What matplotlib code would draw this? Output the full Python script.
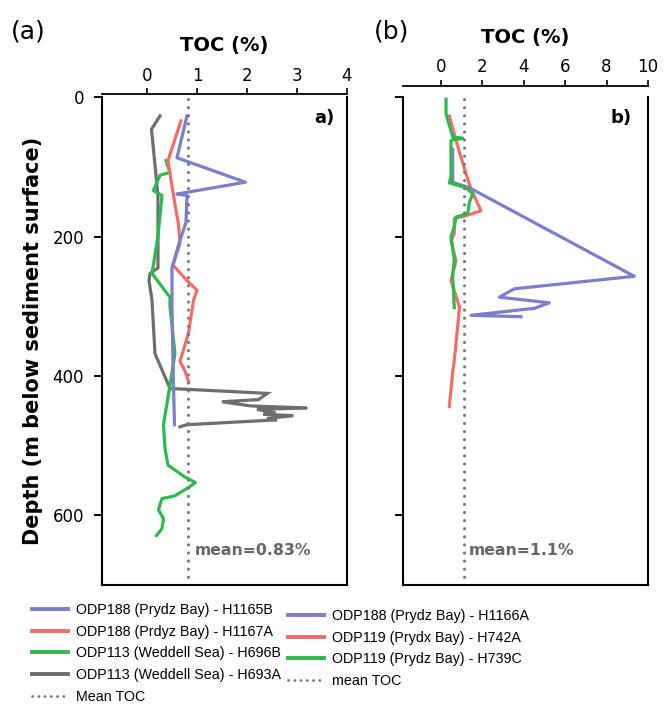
import matplotlib
matplotlib.use('Agg')
import matplotlib.pyplot as plt
from matplotlib.lines import Line2D

plt.rcParams['font.family'] = ['DejaVu Sans']

# ---------------- Panel (a) data ----------------
a_h1165b_toc = [0.80, 0.60, 1.97, 0.60, 0.80, 0.78, 0.64, 0.50, 0.50, 0.52, 0.55]
a_h1165b_depth = [27, 87, 122, 139, 141, 180, 210, 245, 300, 380, 470]

a_h1167a_toc = [0.68, 0.42, 0.55, 0.63, 0.66, 0.52, 0.80, 1.00, 0.93, 0.83, 0.66, 0.76, 0.83]
a_h1167a_depth = [34, 91, 150, 182, 210, 241, 263, 277, 292, 339, 379, 393, 408]

a_h696b_toc = [0.38, 0.46, 0.26, 0.13, 0.30, 0.22, 0.10, 0.46, 0.46, 0.56, 0.45, 0.33,
               0.36, 0.42, 0.76, 0.97, 0.83, 0.56, 0.30, 0.23, 0.33, 0.30, 0.19]
a_h696b_depth = [91, 108, 112, 134, 141, 200, 253, 287, 300, 368, 418, 470,
                 504, 528, 545, 553, 560, 572, 576, 592, 605, 619, 629]

a_h693a_toc = [0.26, 0.09, 0.22, 0.22, 0.06, 0.04, 0.10, 0.16, 0.46, 2.41, 2.23, 1.50,
               2.07, 3.21, 2.20, 2.57, 2.33, 2.93, 2.40, 2.60, 0.80, 0.66]
a_h693a_depth = [27, 46, 141, 245, 253, 263, 291, 368, 418, 425, 434, 437,
                 443, 446, 448, 453, 455, 457, 461, 463, 470, 473]

mean_a = 0.83

# ---------------- Panel (b) data ----------------
b_h1166a_toc = [0.56, 0.56, 1.37, 9.34, 3.54, 2.82, 5.23, 4.51, 1.45, 3.86]
b_h1166a_depth = [75, 122, 130, 257, 275, 287, 295, 303, 313, 315]

b_h742a_toc = [0.40, 0.80, 1.21, 1.45, 1.93, 1.21, 0.64, 0.64, 0.48, 0.72, 0.48, 0.89,
               0.80, 0.64, 0.56, 0.40]
b_h742a_depth = [27, 70, 110, 132, 163, 170, 174, 196, 206, 235, 263, 301,
                 330, 377, 395, 444]

b_h739c_toc = [0.24, 0.24, 0.56, 1.05, 0.48, 0.48, 0.40, 1.21, 1.53, 1.37, 1.29, 0.72,
               0.64, 0.48, 0.64, 0.56, 0.64]
b_h739c_depth = [3, 24, 57, 59, 62, 114, 123, 130, 139, 151, 167, 172,
                 186, 200, 233, 257, 302]

mean_b = 1.1

labels_a = ['ODP188 (Prydz Bay) - H1165B', 'ODP188 (Prdyz Bay) - H1167A',
            'ODP113 (Weddell Sea) - H696B', 'ODP113 (Weddell Sea) - H693A', 'Mean TOC']
labels_b = ['ODP188 (Prydz Bay) - H1166A', 'ODP119 (Prydx Bay) - H742A',
            'ODP119 (Prydz Bay) - H739C', 'mean TOC']

xticks_a = [0, 1, 2, 3, 4]
xticks_b = [0, 2, 4, 6, 8, 10]
yticks = [0, 200, 400, 600]

BLUE = '#7a7fc8'
RED = '#f36e6b'
GREEN = '#2fb84c'
GRAY = '#6e6e6e'
MEANC = '#777777'
LW = 2.3
DOT = (0, (0.05, 2.6))

fig = plt.figure(figsize=(6.71, 7.04), dpi=100)
axa = fig.add_axes([0.152, 0.169, 0.365, 0.693])
axb = fig.add_axes([0.6006, 0.169, 0.365, 0.693])


def style(ax, xlim, xticks, offset, labelleft):
    ax.set_xlim(*xlim)
    ax.set_ylim(700, 0)
    ax.set_xticks(xticks)
    ax.set_yticks(yticks)
    ax.xaxis.tick_top()
    ax.xaxis.set_label_position('top')
    ax.spines['top'].set_position(('outward', offset))
    for s in ax.spines.values():
        s.set_linewidth(1.5)
    ax.spines['top'].set_linewidth(1.3)
    ax.tick_params(axis='x', direction='out', length=4, width=1.2, pad=3, labelsize=12)
    ax.tick_params(axis='y', direction='out', length=6, width=1.4, pad=7, labelsize=12,
                   labelleft=labelleft)
    ax.set_xlabel('TOC (%)', fontsize=14, fontweight='bold', labelpad=11)


style(axa, (-0.9, 4.0), xticks_a, 2, True)
style(axb, (-1.84, 10.0), xticks_b, 8, False)

# Panel a lines
axa.plot(a_h693a_toc, a_h693a_depth, color=GRAY, lw=LW, solid_joinstyle='miter')
axa.plot(a_h696b_toc, a_h696b_depth, color=GREEN, lw=LW)
axa.plot(a_h1167a_toc, a_h1167a_depth, color=RED, lw=LW)
axa.plot(a_h1165b_toc, a_h1165b_depth, color=BLUE, lw=LW)
axa.axvline(mean_a, color=MEANC, lw=2.2, linestyle=DOT, dash_capstyle='round')

# Panel b lines
axb.plot(b_h742a_toc, b_h742a_depth, color=RED, lw=LW)
axb.plot(b_h1166a_toc, b_h1166a_depth, color=BLUE, lw=LW)
axb.plot(b_h739c_toc, b_h739c_depth, color=GREEN, lw=LW)
axb.axvline(mean_b, color=MEANC, lw=2.2, linestyle=DOT, dash_capstyle='round')

axa.set_ylabel('Depth (m below sediment surface)', fontsize=15, fontweight='bold', labelpad=7)

axa.text(0.951, 0.975, 'a)', transform=axa.transAxes, ha='right', va='top',
         fontsize=13, fontweight='bold')
axb.text(0.935, 0.975, 'b)', transform=axb.transAxes, ha='right', va='top',
         fontsize=13, fontweight='bold')

axa.text(0.95, 651, 'mean=0.83%', color='#666666', fontsize=11.3, fontweight='bold',
         ha='left', va='center')
axb.text(1.35, 651, 'mean=1.1%', color='#666666', fontsize=11.3, fontweight='bold',
         ha='left', va='center')

fig.text(28 / 671, 1 - 31 / 704, '(a)', fontsize=18, ha='center', va='center')
fig.text(392 / 671, 1 - 31 / 704, '(b)', fontsize=18, ha='center', va='center')

# Legends
ha = [Line2D([0], [0], color=c, lw=2.8) for c in (BLUE, RED, GREEN, GRAY)]
ha.append(Line2D([0], [0], color=MEANC, lw=2.0, linestyle=(0, (0.05, 2.2)),
                 dash_capstyle='round'))
hb = [Line2D([0], [0], color=c, lw=2.8) for c in (BLUE, RED, GREEN)]
hb.append(Line2D([0], [0], color=MEANC, lw=2.0, linestyle=(0, (0.05, 2.2)),
                 dash_capstyle='round'))

legprops = dict(prop={'family': 'Liberation Sans', 'size': 10.3}, frameon=False,
                handlelength=2.5, handletextpad=0.6, labelspacing=0.54,
                borderpad=0, borderaxespad=0)
fig.legend(ha, labels_a, loc='upper left', bbox_to_anchor=(32 / 671, 1 - 603 / 704),
           **legprops)
fig.legend(hb, labels_b, loc='upper left', bbox_to_anchor=(288 / 671, 1 - 609 / 704),
           **legprops)

fig.savefig('out.png', dpi=100)
